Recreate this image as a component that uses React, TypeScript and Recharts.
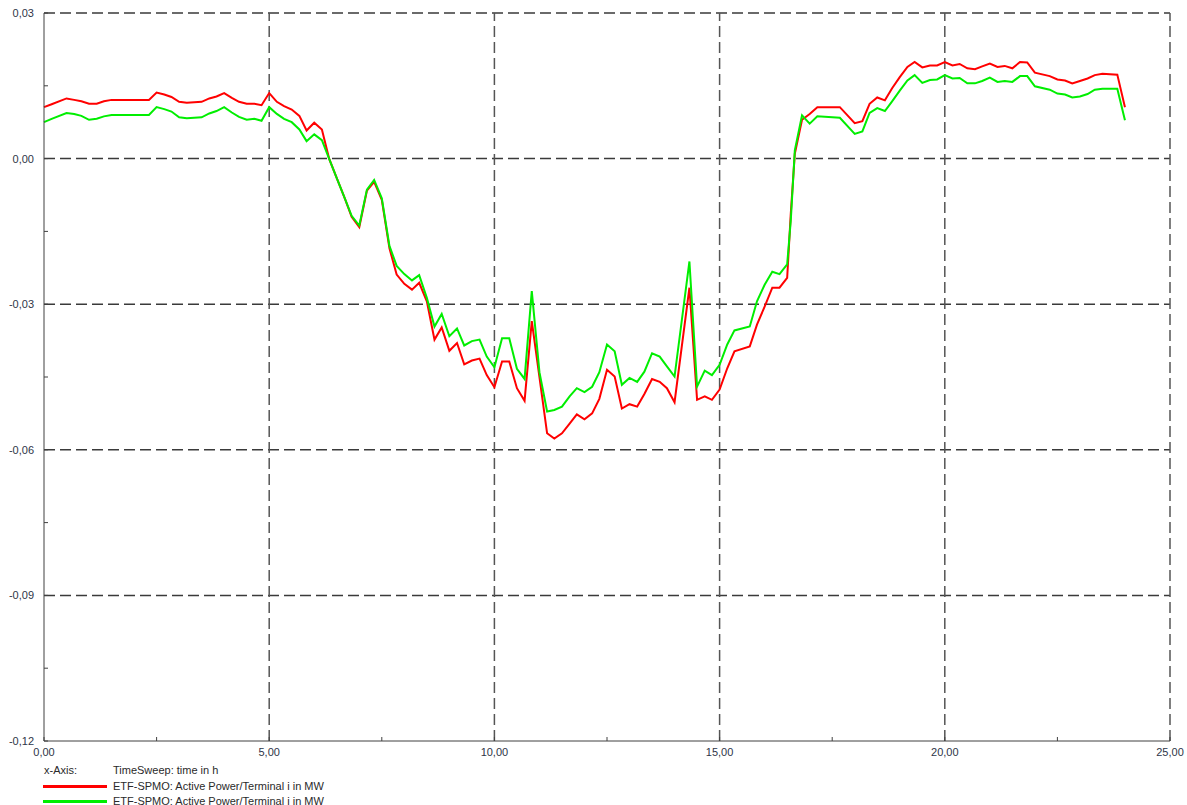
import { LineChart, Line, XAxis, YAxis, ReferenceLine } from 'recharts';

// time in h (breakpoints of the sweep)
const hours = [
  0, 0.17, 0.5, 0.67, 0.83, 1, 1.17, 1.33, 1.5, 2.33, 2.5, 2.67, 2.83, 3, 3.17, 3.5, 3.67, 3.83, 4,
  4.17, 4.33, 4.5, 4.67, 4.83, 5, 5.17, 5.33, 5.5, 5.67, 5.83, 6, 6.17, 6.33, 6.5, 6.67, 6.83, 7,
  7.17, 7.33, 7.5, 7.67, 7.83, 8, 8.17, 8.33, 8.5, 8.67, 8.83, 9, 9.17, 9.33, 9.5, 9.67, 9.83, 10,
  10.17, 10.33, 10.5, 10.67, 10.83, 11, 11.17, 11.33, 11.5, 11.67, 11.83, 12, 12.17, 12.33, 12.5,
  12.67, 12.83, 13, 13.17, 13.33, 13.5, 13.67, 13.83, 14, 14.33, 14.5, 14.67, 14.83, 15, 15.17,
  15.33, 15.67, 15.83, 16, 16.17, 16.33, 16.5, 16.58, 16.67, 16.83, 17, 17.17, 17.67, 18, 18.17,
  18.33, 18.5, 18.67, 18.83, 19, 19.17, 19.33, 19.5, 19.67, 19.83, 20, 20.17, 20.33, 20.5, 20.67,
  20.83, 21, 21.17, 21.33, 21.5, 21.67, 21.83, 22, 22.33, 22.5, 22.67, 22.83, 23, 23.17, 23.33,
  23.5, 23.83, 24,
];

const redPower = [
  0.0106, 0.0112, 0.0124, 0.0121, 0.0118, 0.0113, 0.0113, 0.0118, 0.0121, 0.0121, 0.0136, 0.0132,
  0.0127, 0.0117, 0.0115, 0.0117, 0.0124, 0.0128, 0.0135, 0.0125, 0.0117, 0.0113, 0.0113, 0.011,
  0.0135, 0.0117, 0.0108, 0.0101, 0.0088, 0.0058, 0.0074, 0.006, 0.0, -0.004, -0.008, -0.012,
  -0.0141, -0.0066, -0.0048, -0.0085, -0.0185, -0.0239, -0.0258, -0.027, -0.0256, -0.0294,
  -0.0373, -0.0348, -0.0396, -0.038, -0.0424, -0.0416, -0.0412, -0.0446, -0.0471, -0.0418,
  -0.0418, -0.0473, -0.0499, -0.0335, -0.045, -0.0566, -0.0577, -0.0566, -0.0546, -0.0527,
  -0.0537, -0.0525, -0.0495, -0.0435, -0.0449, -0.0515, -0.0506, -0.0511, -0.0485, -0.0454,
  -0.046, -0.0473, -0.0502, -0.0266, -0.0497, -0.049, -0.0497, -0.0476, -0.0432, -0.0397,
  -0.0387, -0.0342, -0.0305, -0.0266, -0.0266, -0.0246, -0.0114, 0.001, 0.008, 0.0092, 0.0106,
  0.0106, 0.0073, 0.0077, 0.0113, 0.0126, 0.012, 0.0145, 0.0168, 0.0189, 0.0199, 0.0188, 0.0192,
  0.0192, 0.0199, 0.0192, 0.0195, 0.0186, 0.0184, 0.019, 0.0196, 0.0189, 0.0191, 0.0186, 0.0199,
  0.0198, 0.0177, 0.017, 0.0163, 0.0161, 0.0155, 0.016, 0.0165, 0.0172, 0.0175, 0.0173, 0.0106,
];

const greenPower = [
  0.0075, 0.0082, 0.0094, 0.0092, 0.0088, 0.008, 0.0082, 0.0087, 0.009, 0.009, 0.0106, 0.0102,
  0.0097, 0.0085, 0.0083, 0.0085, 0.0093, 0.0098, 0.0106, 0.0095, 0.0086, 0.008, 0.0082, 0.0078,
  0.0106, 0.0092, 0.0082, 0.0075, 0.006, 0.0036, 0.005, 0.0038, 0.0, -0.004, -0.008, -0.0118,
  -0.0138, -0.0064, -0.0044, -0.0082, -0.018, -0.0221, -0.0238, -0.0251, -0.024, -0.0287,
  -0.0346, -0.032, -0.0366, -0.035, -0.0385, -0.0376, -0.0373, -0.0408, -0.043, -0.037, -0.037,
  -0.0433, -0.0454, -0.0273, -0.044, -0.0521, -0.0518, -0.0511, -0.049, -0.0473, -0.0481,
  -0.047, -0.044, -0.0383, -0.0397, -0.0466, -0.0452, -0.046, -0.0439, -0.0401, -0.0408,
  -0.0428, -0.0449, -0.0212, -0.047, -0.0437, -0.0446, -0.0425, -0.0383, -0.0354, -0.0346,
  -0.0294, -0.026, -0.0233, -0.0238, -0.0218, -0.0128, 0.0017, 0.0089, 0.0072, 0.0087, 0.0084,
  0.0051, 0.0056, 0.0094, 0.0104, 0.0098, 0.0118, 0.014, 0.0161, 0.0172, 0.0156, 0.0162, 0.0163,
  0.0172, 0.0165, 0.0166, 0.0155, 0.0155, 0.016, 0.0167, 0.0158, 0.016, 0.0158, 0.017, 0.017,
  0.0149, 0.0142, 0.0134, 0.0132, 0.0126, 0.0128, 0.0133, 0.0142, 0.0144, 0.0144, 0.0079,
];

const xTicks = [0, 2.5, 5, 7.5, 10, 12.5, 15, 17.5, 20, 22.5, 25];
const xMajor = [0, 5, 10, 15, 20, 25];
const yTicks = [-0.12, -0.105, -0.09, -0.075, -0.06, -0.045, -0.03, -0.015, 0, 0.015, 0.03];
const yMajor = [-0.12, -0.09, -0.06, -0.03, 0, 0.03];

const seriesName = 'ETF-SPMO: Active Power/Terminal i in MW';

const data = hours.map((t, i) => ({ t, red: redPower[i], green: greenPower[i] }));

const font = '"Liberation Sans", Arial, sans-serif';
const labelColor = '#2e3548';
const axisColor = '#404040';

const isMajor = (v: number, list: number[]) => list.some((m) => Math.abs(m - v) < 1e-9);
const fmt = (v: number) => v.toFixed(2).replace('.', ',');

const YTick = (props: any) => {
  const { x, y, payload } = props;
  return (
    <g>
      <line x1={x} x2={x + 4} y1={y} y2={y} stroke={axisColor} />
      {isMajor(payload.value, yMajor) && (
        <text x={x - 10} y={y + 4} textAnchor="end" fontSize={11} fontFamily={font} fill={labelColor}>
          {fmt(payload.value)}
        </text>
      )}
    </g>
  );
};

const XTick = (props: any) => {
  const { x, y, payload } = props;
  return (
    <g>
      <line x1={x} x2={x} y1={y} y2={y - 4} stroke={axisColor} />
      {isMajor(payload.value, xMajor) && (
        <text x={x} y={y + 15} textAnchor="middle" fontSize={11} fontFamily={font} fill={labelColor}>
          {fmt(payload.value)}
        </text>
      )}
    </g>
  );
};

const legendText: React.CSSProperties = {
  position: 'absolute',
  left: 113,
  fontSize: 11,
  fontFamily: font,
  color: '#2a2a2a',
  lineHeight: '14px',
  whiteSpace: 'nowrap',
};

export default function App() {
  return (
    <div style={{ position: 'absolute', left: 0, top: 0, width: 1187, height: 805, background: '#fff' }}>
      <LineChart width={1187} height={805} data={data} margin={{ top: 13, right: 17, left: 0, bottom: 0 }}>
        {yMajor
          .filter((v) => v !== -0.12)
          .map((v) => (
            <ReferenceLine key={`h${v}`} y={v} stroke="#3a3a3a" strokeWidth={1.5} strokeDasharray="11 5" />
          ))}
        {xMajor
          .filter((v) => v !== 0)
          .map((v) => (
            <ReferenceLine key={`v${v}`} x={v} stroke="#555" strokeWidth={1.5} strokeDasharray="11 5" />
          ))}
        <XAxis
          dataKey="t"
          type="number"
          domain={[0, 25]}
          ticks={xTicks}
          interval={0}
          height={64}
          tickSize={0}
          tickMargin={0}
          stroke={axisColor}
          tick={<XTick />}
        />
        <YAxis
          type="number"
          domain={[-0.12, 0.03]}
          ticks={yTicks}
          interval={0}
          width={44}
          tickSize={0}
          tickMargin={0}
          stroke={axisColor}
          tick={<YTick />}
          allowDataOverflow
        />
        <Line dataKey="red" stroke="#ff0000" strokeWidth={2} dot={false} isAnimationActive={false} type="linear" />
        <Line dataKey="green" stroke="#00ee00" strokeWidth={2} dot={false} isAnimationActive={false} type="linear" />
      </LineChart>
      <div style={{ ...legendText, left: 44, top: 763 }}>x-Axis:</div>
      <div style={{ ...legendText, top: 763 }}>TimeSweep: time in h</div>
      <div style={{ position: 'absolute', left: 43, top: 785, width: 64, height: 3, background: '#ff0000' }} />
      <div style={{ ...legendText, top: 779 }}>{seriesName}</div>
      <div style={{ position: 'absolute', left: 43, top: 800, width: 64, height: 3, background: '#00ee00' }} />
      <div style={{ ...legendText, top: 794 }}>{seriesName}</div>
    </div>
  );
}
